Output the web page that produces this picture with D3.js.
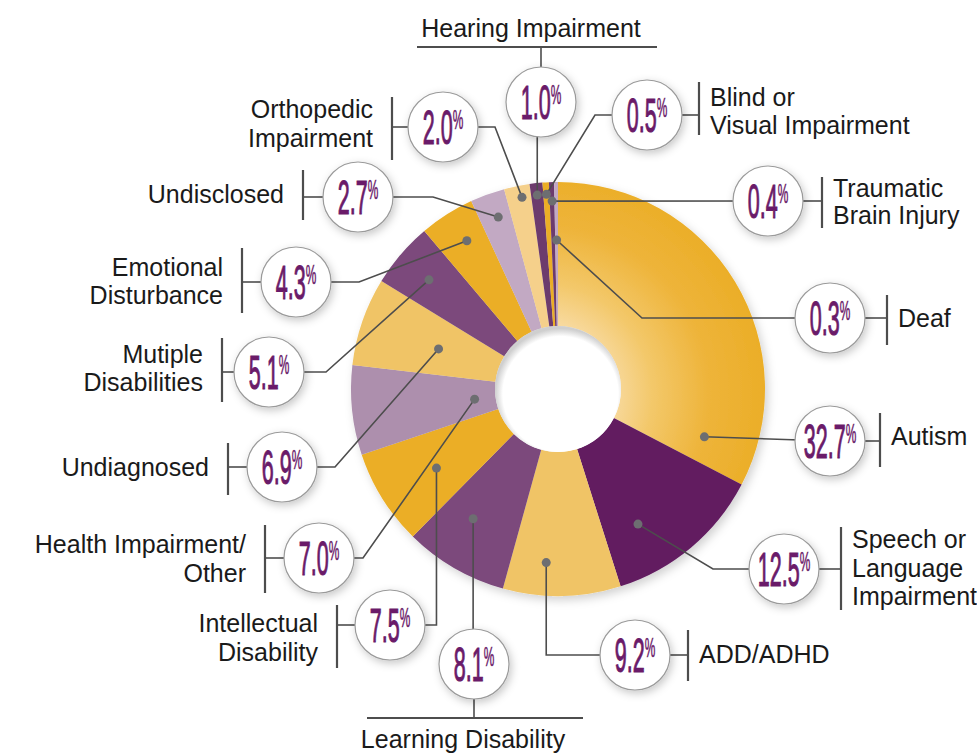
<!DOCTYPE html>
<html>
<head>
  <meta charset="utf-8"/>
  <title>Disability categories</title>
  <style type="text/css">
    body {
      margin:0;
      padding:0;
      background-color:white;
    }
    .label {
      font-family: "Liberation Sans", Arial, sans-serif;
      font-size: 25px;
      fill: #1a1a1a;
    }
    .num {
      font-family: "Liberation Sans", Arial, sans-serif;
      fill: #6a1b69;
      stroke: #6a1b69;
      stroke-width: 1.1px;
    }
  </style>
  <script src="https://d3js.org/d3.v7.min.js" charset="utf-8"></script>
</head>
<body>
<script type="text/javascript">

  var w = 977, h = 753;

  // DATA (clockwise from 12 o'clock)
  var categories = ["Autism", "Speech or Language Impairment", "ADD/ADHD", "Learning Disability",
                    "Intellectual Disability", "Health Impairment/Other", "Undiagnosed",
                    "Mutiple Disabilities", "Emotional Disturbance", "Undisclosed",
                    "Orthopedic Impairment", "Hearing Impairment", "Blind or Visual Impairment",
                    "Traumatic Brain Injury", "Deaf"];
  var values = [32.7, 12.5, 9.2, 8.1, 7.5, 7.0, 6.9, 5.1, 4.3, 2.7, 2.0, 1.0, 0.5, 0.4, 0.3];
  var labelLines = [["Autism"], ["Speech or", "Language", "Impairment"], ["ADD/ADHD"], ["Learning Disability"],
                    ["Intellectual", "Disability"], ["Health Impairment/", "Other"], ["Undiagnosed"],
                    ["Mutiple", "Disabilities"], ["Emotional", "Disturbance"], ["Undisclosed"],
                    ["Orthopedic", "Impairment"], ["Hearing Impairment"], ["Blind or", "Visual Impairment"],
                    ["Traumatic", "Brain Injury"], ["Deaf"]];

  // COLORS
  var gold = "#ebae26", lightGold = "#f0c466", paleGold = "#f5d08b",
      darkPurple = "#621e61", purple = "#7b4a7b", midPurple = "#6c3a6d",
      mauve = "#ad8fad", lightMauve = "#c2a9c3";
  var colors = ["url(#autism-grad)", darkPurple, lightGold, purple, gold, mauve, lightGold,
                purple, gold, lightMauve, paleGold, midPurple, gold, midPurple, lightMauve];

  // pie geometry
  var cx = 558, cy = 389, rOuter = 207, rInner = 63, rBubble = 35;

  // annotation layout: bubble centre, dot spot in slice (t = share of slice angle, r = radius),
  // elbow of leader line, label side and bar
  var layout = [
    {bx: 830, by: 441, t: 0.92, r: 154, elbow: null, side: "right", bar: 880, b1: 413, b2: 467, base: [445]},
    {bx: 784, by: 569, t: 0.71, r: 157, elbow: [713, 569], side: "right", bar: 841, b1: 527, b2: 610, base: [548, 577, 605]},
    {bx: 635, by: 655, t: 0.65, r: 174, elbow: "v", side: "right", bar: 688, b1: 630, b2: 681, base: [663]},
    {bx: 474, by: 664, t: 0.61, r: 155, elbow: "v", side: "bottom", bar: 718, b1: 367, b2: 583, base: [748], tx: 463},
    {bx: 390, by: 625, t: 0.46, r: 145, elbow: "v", side: "left", bar: 337, b1: 605, b2: 668, base: [632, 661]},
    {bx: 319, by: 558, t: 0.46, r: 84, elbow: [363, 558], side: "left", bar: 265, b1: 525, b2: 593, base: [553, 582]},
    {bx: 282, by: 467, t: 0.48, r: 126, elbow: [335, 467], side: "left", bar: 228, b1: 443, b2: 495, base: [476]},
    {bx: 269, by: 372, t: 0.48, r: 169, elbow: [326, 372], side: "left", bar: 222, b1: 338, b2: 402, base: [363, 391]},
    {bx: 296, by: 282, t: 0.56, r: 174, elbow: [359, 282], side: "left", bar: 242, b1: 248, b2: 313, base: [276, 304]},
    {bx: 358, by: 197, t: 0.58, r: 182, elbow: [433, 197], side: "left", bar: 303, b1: 170, b2: 220, base: [203]},
    {bx: 443, by: 127, t: 0.62, r: 195, elbow: [495, 127], side: "left", bar: 392, b1: 97, b2: 160, base: [118, 147]},
    {bx: 541, by: 102, t: 0.5, r: 195, elbow: "v", side: "top", bar: 47, b1: 417, b2: 657, base: [37], tx: 531},
    {bx: 647, by: 115, t: 0.5, r: 195, elbow: [595, 115], side: "right", bar: 699, b1: 82, b2: 135, base: [106, 134]},
    {bx: 768, by: 201, t: 0.5, r: 188, elbow: null, side: "right", bar: 822, b1: 177, b2: 228, base: [197, 224]},
    {bx: 830, by: 318, t: 0.5, r: 149, elbow: [642, 318], side: "right", bar: 887, b1: 295, b2: 345, base: [327]}
  ];

  var lineColor = "#4d4d4d";

  var svg = d3.select("body").append("svg")
              .attr("width", w)
              .attr("height", h);

  var defs = svg.append("defs");

  // gradient in the pie group's own coordinates (origin = pie centre)
  var grad = defs.append("radialGradient")
                 .attr("id", "autism-grad")
                 .attr("gradientUnits", "userSpaceOnUse")
                 .attr("cx", -18).attr("cy", 6).attr("r", 225);
  grad.append("stop").attr("offset", "0.28").style("stop-color", "#f9deac");
  grad.append("stop").attr("offset", "0.5").style("stop-color", "#f3c86a");
  grad.append("stop").attr("offset", "0.75").style("stop-color", "#eeb43a");
  grad.append("stop").attr("offset", "1").style("stop-color", "#ebae28");

  var holeGrad = defs.append("radialGradient").attr("id", "hole-grad")
                     .attr("cx", "52%").attr("cy", "54%").attr("r", "52%");
  holeGrad.append("stop").attr("offset", "0.88").style("stop-color", "#ffffff");
  holeGrad.append("stop").attr("offset", "1").style("stop-color", "#cfcfcf");

  var shadow = defs.append("filter").attr("id", "shadow")
                   .attr("x", "-30%").attr("y", "-30%").attr("width", "160%").attr("height", "160%");
  shadow.append("feDropShadow").attr("dx", 2).attr("dy", 3).attr("stdDeviation", 4)
        .attr("flood-color", "#000").attr("flood-opacity", 0.22);

  var pieShadow = defs.append("filter").attr("id", "pie-shadow")
                      .attr("x", "-10%").attr("y", "-10%").attr("width", "120%").attr("height", "120%");
  pieShadow.append("feDropShadow").attr("dx", 3).attr("dy", 4).attr("stdDeviation", 5)
           .attr("flood-color", "#000").attr("flood-opacity", 0.18);

  // PIE
  var pie = d3.pie().sort(null).value(function(d) { return d; });
  var arcs = pie(values);
  var arc = d3.arc().innerRadius(rInner).outerRadius(rOuter);

  var pieGroup = svg.append("g")
                    .attr("transform", "translate(" + cx + "," + cy + ")")
                    .attr("filter", "url(#pie-shadow)");

  pieGroup.selectAll("path.slice")
          .data(arcs)
          .enter().append("path")
          .attr("class", "slice")
          .attr("d", arc)
          .style("fill", function(d, i) { return colors[i]; });

  svg.append("circle")
     .attr("cx", cx).attr("cy", cy).attr("r", rInner)
     .style("fill", "url(#hole-grad)");

  // dot positions inside the slices
  var dots = arcs.map(function(a, i) {
    var L = layout[i];
    var ang = a.startAngle + L.t * (a.endAngle - a.startAngle);
    return [cx + L.r * Math.sin(ang), cy - L.r * Math.cos(ang)];
  });

  // leader lines (end at the bubble centre, the bubble hides the rest)
  var leaderGroup = svg.append("g").attr("id", "leaders");
  layout.forEach(function(L, i) {
    var d = dots[i];
    var pts = [d];
    if (L.elbow === "v") pts.push([d[0], L.by]);
    else if (L.elbow) pts.push(L.elbow);
    pts.push([L.bx, L.by]);
    leaderGroup.append("path")
               .attr("d", d3.line()(pts))
               .style("fill", "none")
               .style("stroke", lineColor)
               .style("stroke-width", 1.6);
  });

  leaderGroup.selectAll("circle.dot")
             .data(dots)
             .enter().append("circle")
             .attr("class", "dot")
             .attr("cx", function(d) { return d[0]; })
             .attr("cy", function(d) { return d[1]; })
             .attr("r", 4.5)
             .style("fill", "#6d6e71");

  // label bars and texts
  var labelGroup = svg.append("g").attr("id", "labels");
  layout.forEach(function(L, i) {
    var g = labelGroup.append("g");
    if (L.side === "right" || L.side === "left") {
      var edge = L.side === "right" ? L.bx + rBubble : L.bx - rBubble;
      g.append("line").attr("x1", edge).attr("y1", L.by).attr("x2", L.bar).attr("y2", L.by)
       .style("stroke", lineColor).style("stroke-width", 1.6);
      g.append("line").attr("x1", L.bar).attr("y1", L.b1).attr("x2", L.bar).attr("y2", L.b2)
       .style("stroke", lineColor).style("stroke-width", 2.2);
      labelLines[i].forEach(function(s, k) {
        g.append("text")
         .attr("class", "label")
         .attr("x", L.side === "right" ? L.bar + 11 : L.bar - 19)
         .attr("y", L.base[k])
         .attr("text-anchor", L.side === "right" ? "start" : "end")
         .text(s);
      });
    } else {
      var edgeY = L.side === "top" ? L.by - rBubble : L.by + rBubble;
      g.append("line").attr("x1", L.bx).attr("y1", edgeY).attr("x2", L.bx).attr("y2", L.bar)
       .style("stroke", lineColor).style("stroke-width", 1.6);
      g.append("line").attr("x1", L.b1).attr("y1", L.bar).attr("x2", L.b2).attr("y2", L.bar)
       .style("stroke", lineColor).style("stroke-width", 2.2);
      g.append("text")
       .attr("class", "label")
       .attr("x", L.tx)
       .attr("y", L.base[0])
       .attr("text-anchor", "middle")
       .text(labelLines[i][0]);
    }
  });

  // percentage bubbles
  var fmt = d3.format(".1f");
  var bubbles = svg.append("g").attr("id", "bubbles")
                   .selectAll("g.bubble")
                   .data(layout)
                   .enter().append("g")
                   .attr("class", "bubble")
                   .attr("transform", function(L) { return "translate(" + L.bx + "," + L.by + ")"; });

  bubbles.append("circle")
         .attr("r", rBubble)
         .style("fill", "white")
         .style("stroke", "#9a9a9a")
         .style("stroke-width", 1.2)
         .attr("filter", "url(#shadow)");

  var nums = bubbles.append("text")
                    .attr("class", "num")
                    .attr("transform", "translate(0,17) scale(0.44,1)")
                    .attr("text-anchor", "middle");
  nums.append("tspan")
      .style("font-size", "49px")
      .text(function(L, i) { return fmt(values[i]); });
  nums.append("tspan")
      .attr("dy", -15)
      .style("font-size", "27px")
      .style("stroke-width", "0.6px")
      .text("%");

</script>
</body>
</html>
